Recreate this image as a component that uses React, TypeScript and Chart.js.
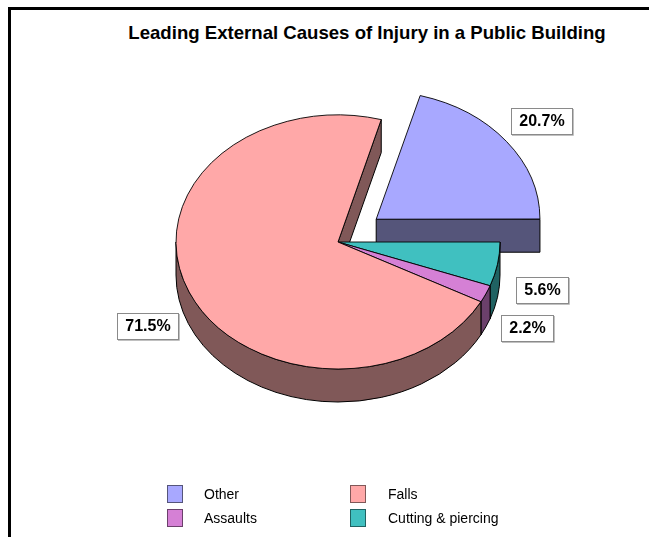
import React, { useEffect, useRef } from "react";
import { Chart, registerables } from "chart.js";

Chart.register(...registerables);

// ---- data (clockwise from 3 o'clock) ----
const categories = ["Cutting & piercing", "Assaults", "Falls", "Other"];
const values = [5.6, 2.2, 71.5, 20.7];
const topColors = ["#40C0C0", "#D580D5", "#FFA8A8", "#A8A8FF"];
const sideColors = ["#206262", "#6B406B", "#805858", "#55557A"];
const explodeOffsets = [0, 0, 0, 192];
const legendRows = [
  ["Other", "Falls"],
  ["Assaults", "Cutting & piercing"],
];
const titleText = "Leading External Causes of Injury in a Public Building";

const TILT = 0.784;
const DEPTH = 33;
const FONT = '"Liberation Sans", Arial, Helvetica, sans-serif';

type Geo = { cx: number; cy: number; ox: number; oy: number; r: number; R: number; s: number; e: number; half: number };

function getGeo(chart: any): Geo[] {
  const meta = chart.getDatasetMeta(0);
  return meta.data.map((el: any) => {
    const p = el.getProps(["x", "y", "startAngle", "endAngle", "outerRadius"], true);
    const off = (el.options.offset || 0) / 4;
    const half = (p.startAngle + p.endAngle) / 2;
    const circ = p.endAngle - p.startAngle;
    const fix = 1 - Math.sin(Math.min(Math.PI, circ));
    return {
      cx: p.x,
      cy: p.y,
      ox: Math.cos(half) * off,
      oy: Math.sin(half) * off,
      r: p.outerRadius + off * fix,
      R: p.outerRadius,
      s: p.startAngle,
      e: p.endAngle,
      half,
    };
  });
}

function pt(g: Geo, a: number, dz: number): [number, number] {
  return [g.cx + g.ox + g.r * Math.cos(a), g.cy + TILT * (g.oy + g.r * Math.sin(a)) + dz];
}

const pie3d = {
  id: "pie3d",
  beforeDatasetsDraw(chart: any) {
    const ctx: CanvasRenderingContext2D = chart.ctx;
    const geo = getGeo(chart);
    ctx.save();
    ctx.lineWidth = 1;
    ctx.strokeStyle = "#000";
    ctx.lineJoin = "round";
    // pass 1: radial faces facing the viewer
    geo.forEach((g, i) => {
      const faces: number[] = [];
      if (Math.cos(g.e) > 0) faces.push(g.e);
      if (Math.cos(g.s) < 0) faces.push(g.s);
      faces.forEach((a) => {
        const c0: [number, number] = [g.cx + g.ox, g.cy + TILT * g.oy];
        const p0 = pt(g, a, 0);
        const p1 = pt(g, a, DEPTH);
        ctx.beginPath();
        ctx.moveTo(c0[0], c0[1]);
        ctx.lineTo(p0[0], p0[1]);
        ctx.lineTo(p1[0], p1[1]);
        ctx.lineTo(c0[0], c0[1] + DEPTH);
        ctx.closePath();
        ctx.fillStyle = sideColors[i];
        ctx.fill();
        ctx.stroke();
      });
    });
    // pass 2: rim (front half only)
    geo.forEach((g, i) => {
      for (let k = -1; k <= 1; k++) {
        const lo = Math.max(g.s, 2 * Math.PI * k);
        const hi = Math.min(g.e, 2 * Math.PI * k + Math.PI);
        if (hi - lo <= 1e-4) continue;
        const ex = g.cx + g.ox;
        const ey = g.cy + TILT * g.oy;
        ctx.beginPath();
        ctx.ellipse(ex, ey, g.r, g.r * TILT, 0, lo, hi, false);
        ctx.ellipse(ex, ey + DEPTH, g.r, g.r * TILT, 0, hi, lo, true);
        ctx.closePath();
        ctx.fillStyle = sideColors[i];
        ctx.fill();
        ctx.stroke();
      }
    });
    ctx.restore();
    // squash the top faces into an ellipse
    const cx = geo[0].cx;
    const cy = geo[0].cy;
    ctx.save();
    ctx.translate(cx, cy);
    ctx.scale(1, TILT);
    ctx.translate(-cx, -cy);
  },
  afterDatasetsDraw(chart: any) {
    const ctx: CanvasRenderingContext2D = chart.ctx;
    ctx.restore();
    const geo = getGeo(chart);
    const vals = chart.data.datasets[0].data as number[];
    ctx.save();
    ctx.font = `bold 16px ${FONT}`;
    ctx.textAlign = "center";
    ctx.textBaseline = "middle";
    geo.forEach((g, i) => {
      const text = `${vals[i].toFixed(1)}%`;
      const k = 1.28;
      const x = g.cx + g.ox + k * g.R * Math.cos(g.half);
      const y = g.cy + TILT * (g.oy + k * g.R * Math.sin(g.half)) + (Math.sin(g.half) > 0 ? DEPTH * 0.6 : 0);
      const w = Math.round(ctx.measureText(text).width + 16);
      const h = 26;
      const bx = Math.round(x - w / 2);
      const by = Math.round(y - h / 2);
      ctx.fillStyle = "#fff";
      ctx.fillRect(bx, by, w, h);
      ctx.strokeStyle = "#8a8a8a";
      ctx.lineWidth = 1;
      ctx.strokeRect(bx + 0.5, by + 0.5, w, h);
      ctx.strokeStyle = "#c0c0c0";
      ctx.beginPath();
      ctx.moveTo(bx + 1, by + h + 1.5);
      ctx.lineTo(bx + w + 1.5, by + h + 1.5);
      ctx.lineTo(bx + w + 1.5, by + 1);
      ctx.stroke();
      ctx.fillStyle = "#000";
      ctx.fillText(text, bx + w / 2 + 0.5, by + h / 2 + 1);
    });
    ctx.restore();
  },
};

export default function App() {
  const ref = useRef<HTMLCanvasElement | null>(null);

  useEffect(() => {
    if (!ref.current) return;
    const chart = new Chart(ref.current, {
      type: "pie",
      data: {
        labels: categories,
        datasets: [
          {
            data: values,
            backgroundColor: topColors,
            borderColor: "#000",
            borderWidth: 1,
            offset: explodeOffsets,
          } as any,
        ],
      },
      options: {
        animation: false,
        responsive: false,
        rotation: 90,
        radius: 162,
        events: [],
        layout: { padding: { left: 27, right: 0, top: 0, bottom: 53 } },
        plugins: {
          legend: { display: false },
          tooltip: { enabled: false },
          title: { display: false },
        },
      } as any,
      plugins: [pie3d as any],
    });
    return () => chart.destroy();
  }, []);

  const colorOf = (name: string) => topColors[categories.indexOf(name)];
  const sideOf = (name: string) => sideColors[categories.indexOf(name)];

  return (
    <div>
      <div
        style={{
          position: "fixed",
          left: 8,
          top: 7,
          width: 700,
          height: 600,
          borderTop: "3px solid #000",
          borderLeft: "3px solid #000",
          background: "#fff",
          boxSizing: "border-box",
        }}
      />
      <div
        style={{
          position: "fixed",
          left: 67,
          top: 22,
          width: 600,
          textAlign: "center",
          fontFamily: FONT,
          fontWeight: "bold",
          fontSize: 18.6,
          lineHeight: "21px",
          whiteSpace: "nowrap",
          color: "#000",
        }}
      >
        {titleText}
      </div>
      <canvas
        ref={ref}
        width={649}
        height={537}
        style={{ position: "fixed", left: 0, top: 0, width: 649, height: 537 }}
      />
      {legendRows.map((row, ri) =>
        row.map((name, ci) => (
          <React.Fragment key={name}>
            <div
              style={{
                position: "fixed",
                left: ci === 0 ? 167 : 350,
                top: 485 + ri * 24,
                width: 16,
                height: 18,
                boxSizing: "border-box",
                background: colorOf(name),
                border: `1px solid ${sideOf(name)}`,
              }}
            />
            <div
              style={{
                position: "fixed",
                left: ci === 0 ? 204 : 388,
                top: 486 + ri * 24,
                fontFamily: FONT,
                fontSize: 14,
                lineHeight: "16px",
                whiteSpace: "nowrap",
                color: "#000",
              }}
            >
              {name}
            </div>
          </React.Fragment>
        ))
      )}
    </div>
  );
}
